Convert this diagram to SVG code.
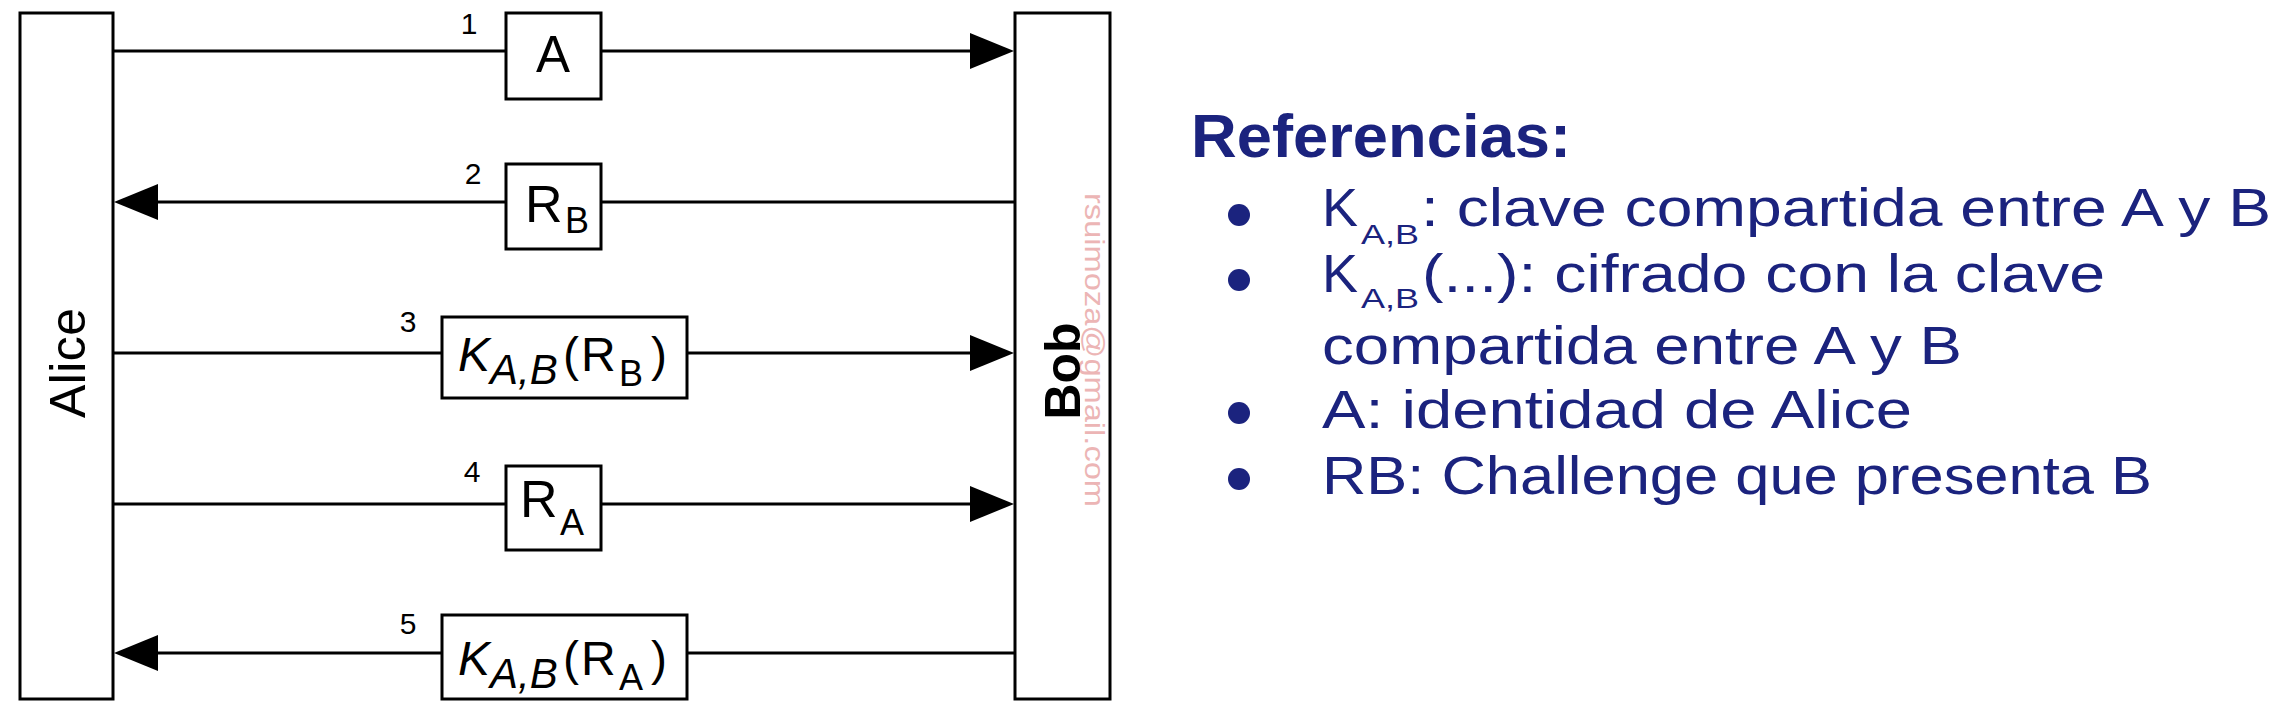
<svg xmlns="http://www.w3.org/2000/svg" width="2296" height="720" viewBox="0 0 2296 720">
<defs>
<style>
.box{fill:#fff;stroke:#000;stroke-width:3}
.line{stroke:#000;stroke-width:3;fill:none}
.head{fill:#000}
.lbl{font-family:"Liberation Sans",Arial,sans-serif;fill:#000}
.num{font-family:"Liberation Sans",Arial,sans-serif;font-size:30px;fill:#000;text-anchor:middle}
.ref{font-family:"Liberation Sans",Arial,sans-serif;fill:#1b237e}
.dot{fill:#1b237e}
</style>
</defs>
<rect width="2296" height="720" fill="#fff"/>
<g id="connectors">
<line class="line" x1="113" y1="51" x2="975" y2="51"/>
<polygon class="head" points="1014,51 970,33 970,69"/>
<line class="line" x1="155" y1="202" x2="1015" y2="202"/>
<polygon class="head" points="114,202 158,184 158,220"/>
<line class="line" x1="113" y1="353" x2="975" y2="353"/>
<polygon class="head" points="1014,353 970,335 970,371"/>
<line class="line" x1="113" y1="504" x2="975" y2="504"/>
<polygon class="head" points="1014,504 970,486 970,522"/>
<line class="line" x1="155" y1="653" x2="1015" y2="653"/>
<polygon class="head" points="114,653 158,635 158,671"/>
<text class="num" x="469" y="34">1</text>
<text class="num" x="473" y="184">2</text>
<text class="num" x="408" y="332">3</text>
<text class="num" x="472" y="482">4</text>
<text class="num" x="408" y="634">5</text>
</g>
<g id="alice">
<rect class="box" x="20" y="13" width="93" height="686"/>
<text class="lbl" font-size="50" text-anchor="middle" textLength="110" transform="translate(85,363) rotate(-90)">Alice</text>
</g>
<g id="bob">
<rect class="box" x="1015" y="13" width="95" height="686"/>
<text font-family="Liberation Sans, Arial, sans-serif" font-size="27" fill="#e8a3a3" opacity="0.8" textLength="314" lengthAdjust="spacingAndGlyphs" transform="translate(1085,193) rotate(90)">rsuimoza@gmail.com</text>
<text class="lbl" font-size="50" font-weight="bold" text-anchor="middle" transform="translate(1080,371) rotate(-90)">Bob</text>
</g>
<g id="msg1">
<rect class="box" x="506" y="13" width="95" height="86"/>
<text class="lbl" font-size="51" x="553" y="72" text-anchor="middle">A</text>
</g>
<g id="msg2">
<rect class="box" x="506" y="164" width="95" height="85"/>
<text class="lbl" font-size="52" x="525" y="222">R<tspan font-size="36" x="565" y="233">B</tspan></text>
</g>
<g id="msg3">
<rect class="box" x="442" y="317" width="245" height="81"/>
<text class="lbl" font-size="48" x="458" y="371"><tspan font-style="italic">K</tspan><tspan x="490" y="384" font-size="42" font-style="italic">A,B</tspan><tspan x="563" y="371">(</tspan><tspan x="581">R</tspan><tspan x="619" y="386" font-size="36">B</tspan><tspan x="651" y="371">)</tspan></text>
</g>
<g id="msg4">
<rect class="box" x="506" y="466" width="95" height="84"/>
<text class="lbl" font-size="52" x="520" y="517">R<tspan font-size="36" x="560" y="535">A</tspan></text>
</g>
<g id="msg5">
<rect class="box" x="442" y="615" width="245" height="84"/>
<text class="lbl" font-size="48" x="458" y="675"><tspan font-style="italic">K</tspan><tspan x="490" y="688" font-size="42" font-style="italic">A,B</tspan><tspan x="563" y="675">(</tspan><tspan x="581">R</tspan><tspan x="619" y="690" font-size="36">A</tspan><tspan x="651" y="675">)</tspan></text>
</g>
<g id="referencias">
<text class="ref" x="1191" y="157" font-size="62" font-weight="bold" textLength="380" lengthAdjust="spacingAndGlyphs">Referencias:</text>
<circle class="dot" cx="1239" cy="215" r="11"/>
<circle class="dot" cx="1239" cy="280" r="11"/>
<circle class="dot" cx="1239" cy="413" r="11"/>
<circle class="dot" cx="1239" cy="479" r="11"/>
<text class="ref" x="1322" y="226" font-size="54">K</text>
<text class="ref" x="1361" y="244" font-size="28" textLength="58" lengthAdjust="spacingAndGlyphs">A,B</text>
<text class="ref" x="1421" y="226" font-size="54" textLength="850" lengthAdjust="spacingAndGlyphs">: clave compartida entre A y B</text>
<text class="ref" x="1322" y="292" font-size="54">K</text>
<text class="ref" x="1361" y="308" font-size="28" textLength="58" lengthAdjust="spacingAndGlyphs">A,B</text>
<text class="ref" x="1422" y="292" font-size="54" textLength="683" lengthAdjust="spacingAndGlyphs">(...): cifrado con la clave</text>
<text class="ref" x="1322" y="364" font-size="54" textLength="640" lengthAdjust="spacingAndGlyphs">compartida entre A y B</text>
<text class="ref" x="1322" y="428" font-size="54" textLength="590" lengthAdjust="spacingAndGlyphs">A: identidad de Alice</text>
<text class="ref" x="1322" y="494" font-size="54" textLength="830" lengthAdjust="spacingAndGlyphs">RB: Challenge que presenta B</text>
</g>
</svg>
